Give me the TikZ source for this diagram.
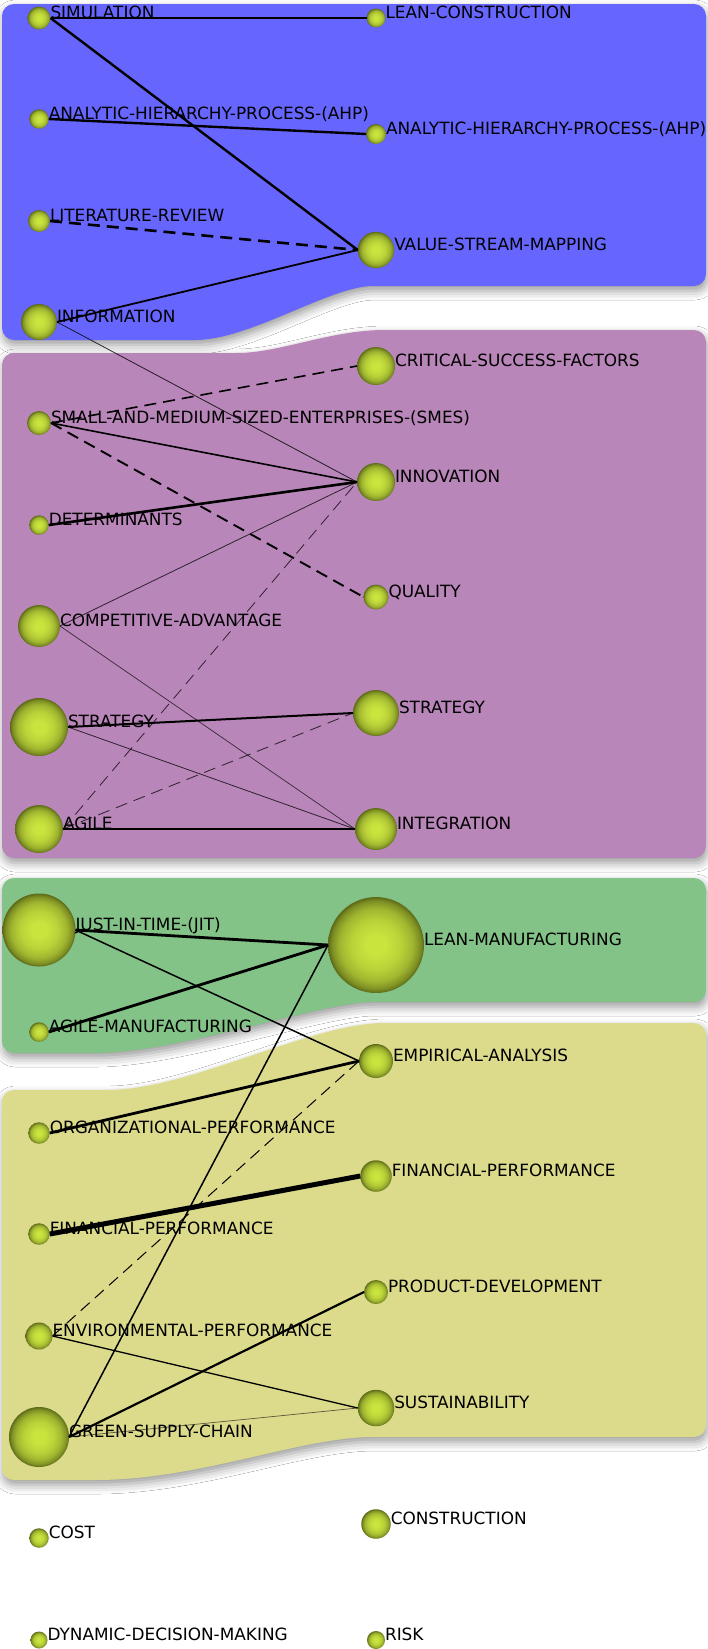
\documentclass[tikz,border=0pt]{standalone}
\usepackage{fontspec}
\setmainfont{DejaVu Sans}
\usetikzlibrary{shadows.blur}
\definecolor{kwin}{RGB}{202,228,62}
\definecolor{kwout}{RGB}{92,106,24}
\definecolor{clblue}{RGB}{102,102,255}
\definecolor{clpurple}{RGB}{185,134,185}
\definecolor{clgreen}{RGB}{132,195,136}
\definecolor{clyellow}{RGB}{220,219,140}
\pgfdeclareradialshading{kwball}{\pgfpoint{0bp}{0bp}}{color(0bp)=(kwin); color(5bp)=(kwin); color(13bp)=(kwin!85!kwout); color(19bp)=(kwin!62!kwout); color(23bp)=(kwin!30!kwout); color(25bp)=(kwout); color(50bp)=(kwout)}
\begin{document}
\begin{tikzpicture}[x=1pt,y=-1pt,
	kw/.style={circle,inner sep=0pt,outer sep=0pt,shade,shading=kwball,minimum size=#1},
	lbl/.style={anchor=base west,inner sep=0pt,outer sep=0pt,font=\fontsize{16.9}{18}\selectfont},
	lnk/.style={line width=#1},
	dlnk/.style={line width=#1,dash pattern=on 12pt off 7pt},
	cluster/.style={rounded corners=12pt,blur shadow={shadow xshift=1pt,shadow yshift=-5pt,shadow blur radius=9pt,shadow opacity=40}}]
	
	\path[use as bounding box,fill=white] (0,0) rectangle (707,1649);
	
	%clusters
	\fill[clblue,cluster] (2,4) -- (706,4) -- (706,286) -- (385,286) [sharp corners] .. controls (330,286) and (250,340) .. (195,340) [rounded corners=12pt] -- (2,340) -- cycle;
	\fill[clpurple,cluster] (2,353) -- (225,353) [sharp corners] .. controls (280,353) and (330,330) .. (385,330) [rounded corners=12pt] -- (706,330) -- (706,858) -- (2,858) -- cycle;
	\fill[clgreen,cluster] (2,878) -- (706,878) -- (706,1002) -- (385,1002) [sharp corners] .. controls (320,1002) and (180,1053) .. (95,1053) [rounded corners=12pt] -- (2,1053) -- cycle;
	\fill[clyellow,cluster] (2,1090) -- (95,1090) [sharp corners] .. controls (190,1090) and (310,1023) .. (385,1023) [rounded corners=12pt] -- (706,1023) -- (706,1437) -- (385,1437) [sharp corners] .. controls (300,1437) and (200,1480) .. (95,1480) [rounded corners=12pt] -- (2,1480) -- cycle;
	
	%keywords left
	\node[kw=23pt] (sim) at (39,18) {};
	\node[kw=19.5pt] (ahpL) at (39,119) {};
	\node[kw=22pt] (litrev) at (39,221) {};
	\node[kw=36pt] (info) at (39,322) {};
	\node[kw=24pt] (smes) at (39,423) {};
	\node[kw=19.5pt] (determ) at (39,525) {};
	\node[kw=42pt] (compadv) at (39,626) {};
	\node[kw=58pt] (stratL) at (39,727) {};
	\node[kw=48pt] (agile) at (39,829) {};
	\node[kw=73pt] (jit) at (39,930) {};
	\node[kw=19.5pt] (agileman) at (39,1032) {};
	\node[kw=21.5pt] (orgperf) at (39,1133) {};
	\node[kw=21.5pt] (finL) at (39,1234) {};
	\node[kw=27pt] (envperf) at (39,1336) {};
	\node[kw=60pt] (gsc) at (39,1437) {};
	\node[kw=19.5pt] (cost) at (39,1538) {};
	\node[kw=17pt] (ddm) at (39,1640) {};
	
	%keywords right
	\node[kw=19pt] (leancon) at (376,18) {};
	\node[kw=20pt] (ahpR) at (376,134) {};
	\node[kw=36.5pt] (vsm) at (376,250) {};
	\node[kw=38pt] (csf) at (376,366) {};
	\node[kw=38pt] (innov) at (376,482) {};
	\node[kw=25pt] (quality) at (376,597) {};
	\node[kw=46pt] (stratR) at (376,713) {};
	\node[kw=42pt] (integ) at (376,829) {};
	\node[kw=96pt] (leanman) at (376,945) {};
	\node[kw=34pt] (empan) at (376,1061) {};
	\node[kw=31.5pt] (finR) at (376,1176) {};
	\node[kw=24pt] (proddev) at (376,1292) {};
	\node[kw=36.5pt] (sustain) at (376,1408) {};
	\node[kw=29.5pt] (constr) at (376,1524) {};
	\node[kw=18pt] (risk) at (376,1640) {};
	
	%links
	\draw[lnk=1.6pt] (sim.east) -- (leancon.west);
	\draw[lnk=2.4pt] (sim.east) -- (vsm.west);
	\draw[lnk=2.4pt] (ahpL.east) -- (ahpR.west);
	\draw[dlnk=2.6pt] (litrev.east) -- (vsm.west);
	\draw[lnk=1.8pt] (info.east) -- (vsm.west);
	\draw[lnk=0.8pt,opacity=0.8] (info.east) -- (innov.west);
	\draw[dlnk=1.6pt] (smes.east) -- (csf.west);
	\draw[lnk=1.6pt] (smes.east) -- (innov.west);
	\draw[dlnk=1.9pt] (smes.east) -- (quality.west);
	\draw[lnk=2.6pt] (determ.east) -- (innov.west);
	\draw[lnk=0.8pt,opacity=0.75] (compadv.east) -- (innov.west);
	\draw[lnk=0.7pt,opacity=0.7] (compadv.east) -- (integ.west);
	\draw[dlnk=0.8pt,opacity=0.75] (agile.east) -- (innov.west);
	\draw[lnk=2pt] (stratL.east) -- (stratR.west);
	\draw[lnk=0.8pt,opacity=0.75] (stratL.east) -- (integ.west);
	\draw[dlnk=0.9pt,opacity=0.7] (agile.east) -- (stratR.west);
	\draw[lnk=2pt] (agile.east) -- (integ.west);
	\draw[lnk=2.8pt] (jit.east) -- (leanman.west);
	\draw[lnk=1.5pt] (jit.east) -- (empan.west);
	\draw[lnk=2.8pt] (agileman.east) -- (leanman.west);
	\draw[lnk=1.5pt] (gsc.east) -- (leanman.west);
	\draw[lnk=2.8pt] (orgperf.east) -- (empan.west);
	\draw[lnk=5pt] (finL.east) -- (finR.west);
	\draw[dlnk=1pt] (envperf.east) -- (empan.west);
	\draw[lnk=1.3pt] (envperf.east) -- (sustain.west);
	\draw[lnk=2.2pt] (gsc.east) -- (proddev.west);
	\draw[lnk=0.7pt,opacity=0.6] (gsc.east) -- (sustain.west);
	
	%labels
	\node[lbl] (simT) at (sim.east) {SIMULATION};
	\node[lbl] (ahpLT) at (ahpL.east) {ANALYTIC-HIERARCHY-PROCESS-(AHP)};
	\node[lbl] (litrevT) at (litrev.east) {LITERATURE-REVIEW};
	\node[lbl] (infoT) at (info.east) {INFORMATION};
	\node[lbl] (smesT) at (smes.east) {SMALL-AND-MEDIUM-SIZED-ENTERPRISES-(SMES)};
	\node[lbl] (determT) at (determ.east) {DETERMINANTS};
	\node[lbl] (compadvT) at (compadv.east) {COMPETITIVE-ADVANTAGE};
	\node[lbl] (stratLT) at (stratL.east) {STRATEGY};
	\node[lbl] (agileT) at (agile.east) {AGILE};
	\node[lbl] (jitT) at (jit.east) {JUST-IN-TIME-(JIT)};
	\node[lbl] (agilemanT) at (agileman.east) {AGILE-MANUFACTURING};
	\node[lbl] (orgperfT) at (orgperf.east) {ORGANIZATIONAL-PERFORMANCE};
	\node[lbl] (finLT) at (finL.east) {FINANCIAL-PERFORMANCE};
	\node[lbl] (envperfT) at (envperf.east) {ENVIRONMENTAL-PERFORMANCE};
	\node[lbl] (gscT) at (gsc.east) {GREEN-SUPPLY-CHAIN};
	\node[lbl] (costT) at (cost.east) {COST};
	\node[lbl] (ddmT) at (ddm.east) {DYNAMIC-DECISION-MAKING};
	\node[lbl] (leanconT) at (leancon.east) {LEAN-CONSTRUCTION};
	\node[lbl] (ahpRT) at (ahpR.east) {ANALYTIC-HIERARCHY-PROCESS-(AHP)};
	\node[lbl] (vsmT) at (vsm.east) {VALUE-STREAM-MAPPING};
	\node[lbl] (csfT) at (csf.east) {CRITICAL-SUCCESS-FACTORS};
	\node[lbl] (innovT) at (innov.east) {INNOVATION};
	\node[lbl] (qualityT) at (quality.east) {QUALITY};
	\node[lbl] (stratRT) at (stratR.east) {STRATEGY};
	\node[lbl] (integT) at (integ.east) {INTEGRATION};
	\node[lbl] (leanmanT) at (leanman.east) {LEAN-MANUFACTURING};
	\node[lbl] (empanT) at (empan.east) {EMPIRICAL-ANALYSIS};
	\node[lbl] (finRT) at (finR.east) {FINANCIAL-PERFORMANCE};
	\node[lbl] (proddevT) at (proddev.east) {PRODUCT-DEVELOPMENT};
	\node[lbl] (sustainT) at (sustain.east) {SUSTAINABILITY};
	\node[lbl] (constrT) at (constr.east) {CONSTRUCTION};
	\node[lbl] (riskT) at (risk.east) {RISK};
\end{tikzpicture}
\end{document}
